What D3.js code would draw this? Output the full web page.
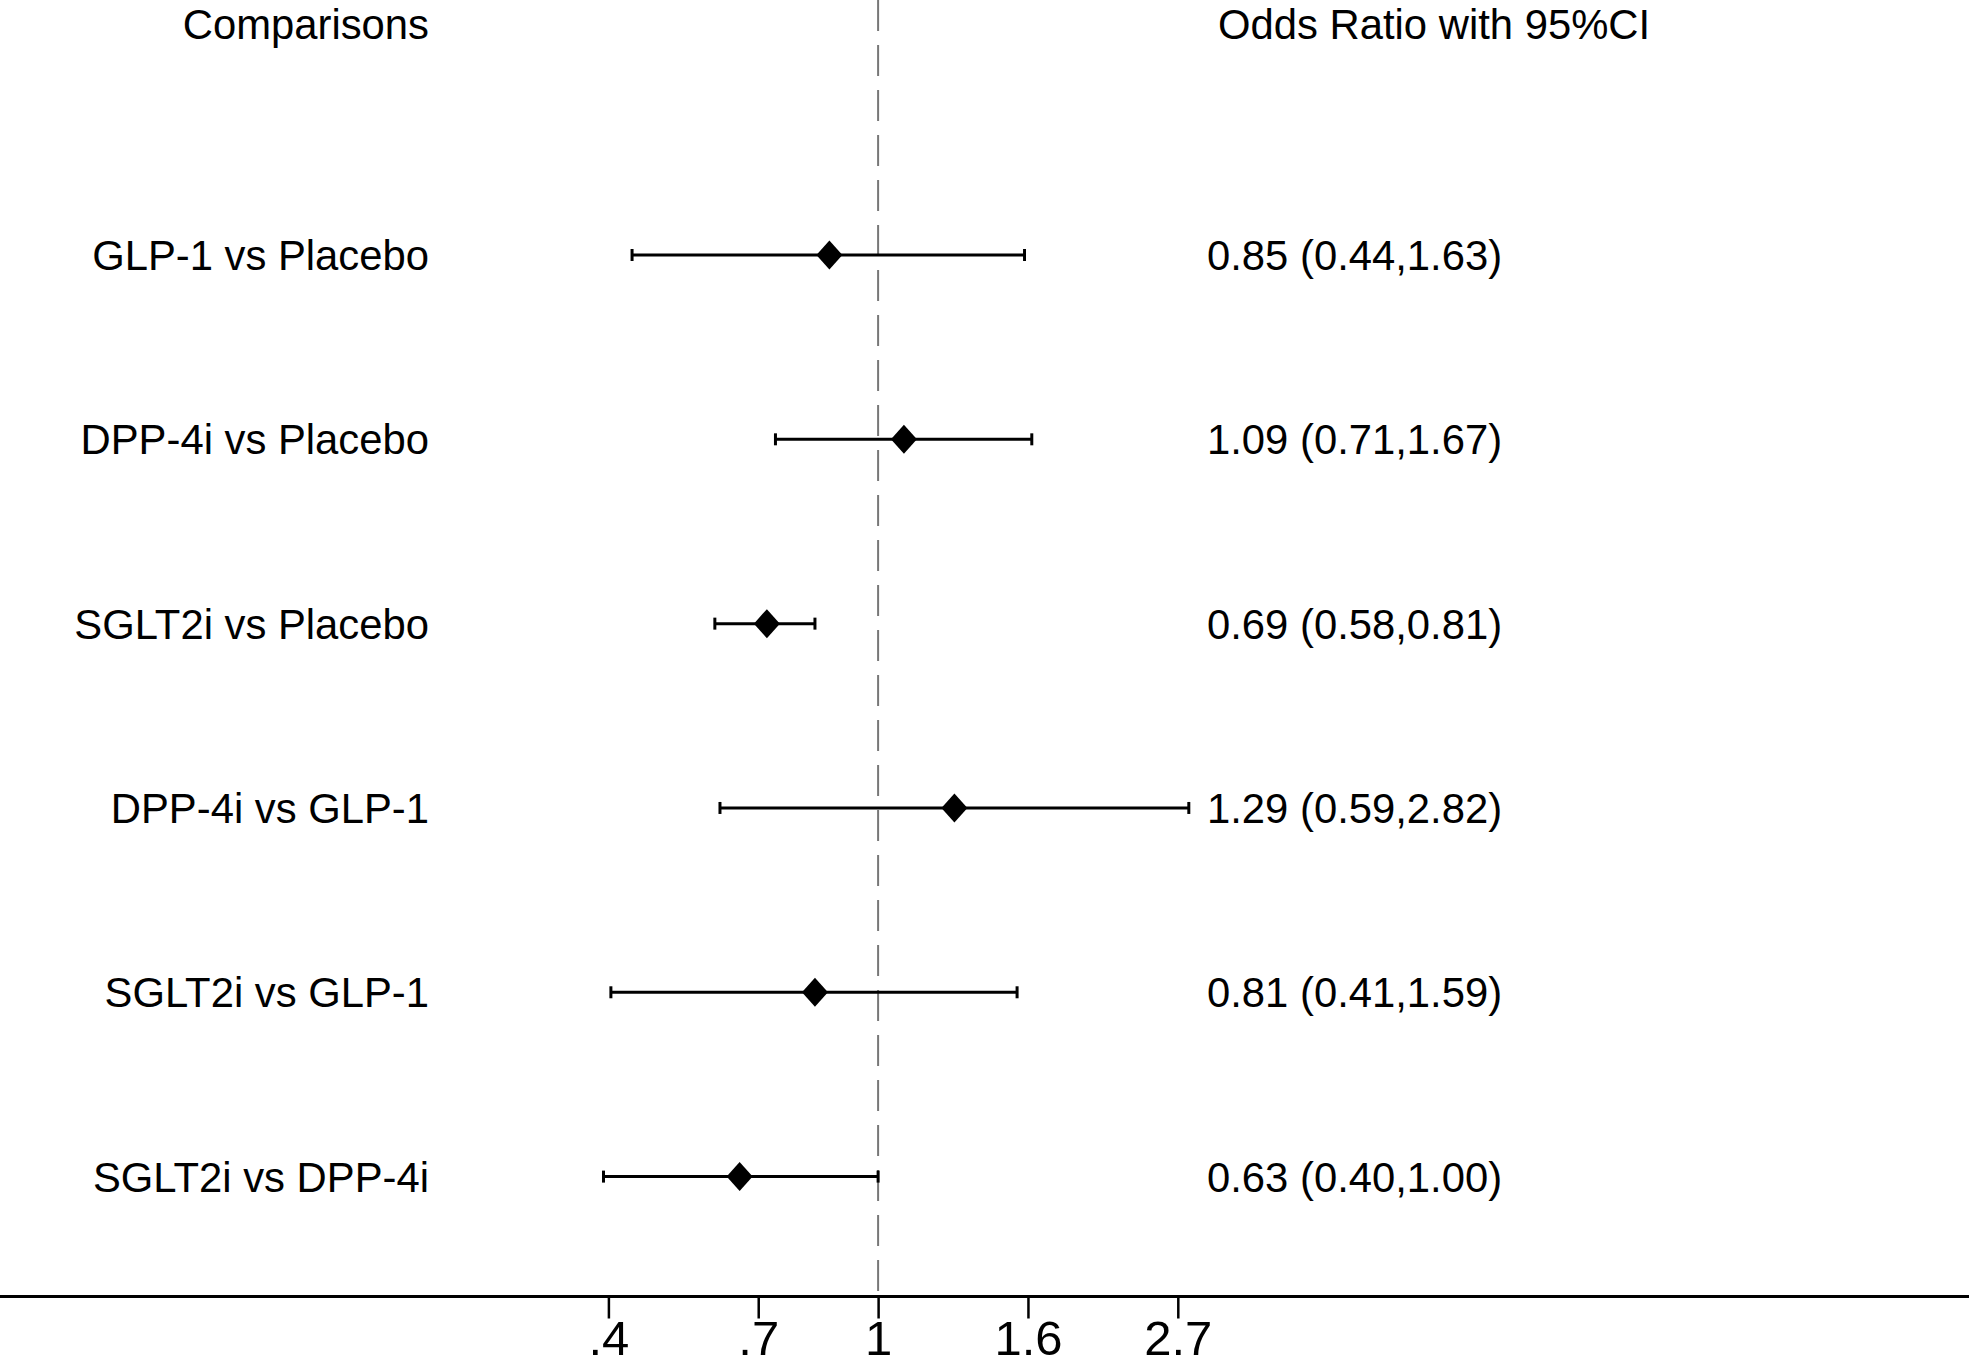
<!DOCTYPE html>
<html lang="en">
  <head>
    <meta charset="UTF-8">
    <title>Forest plot</title>
    <style>
body{
    margin: 0;
    background: #fff;
}
svg{
    display: block;
    background: #fff;
    font-family: "Liberation Sans", Arial, Helvetica, sans-serif;
}
    </style>
  </head>
  <body>
    <script src="https://cdn.jsdelivr.net/npm/d3@7/dist/d3.min.js" charset="UTF-8"></script>
    <script>
// data
var comparisons = ["GLP-1 vs Placebo", "DPP-4i vs Placebo", "SGLT2i vs Placebo",
                   "DPP-4i vs GLP-1", "SGLT2i vs GLP-1", "SGLT2i vs DPP-4i"];
var oddsRatio = [0.85, 1.09, 0.69, 1.29, 0.81, 0.63];
var lowerCI = [0.44, 0.71, 0.58, 0.59, 0.41, 0.40];
var upperCI = [1.63, 1.67, 0.81, 2.82, 1.59, 1.00];
var tickValues = [0.4066, 0.6703, 1, 1.6487, 2.7183];
var tickLabels = [".4", ".7", "1", "1.6", "2.7"];

var width = 1969, height = 1367;
var axisY = 1296.5, labelRight = 429, valueLeft = 1207, fs = 41.8;

var svg = d3.select("body").append("svg")
            .attr("width", width)
            .attr("height", height);

var x = d3.scaleLog()
          .domain([tickValues[0], tickValues[tickValues.length - 1]])
          .range([608.4, 1177.8]);

var y = d3.scalePoint()
          .domain(comparisons)
          .range([255, 1176.6]);

// reference line at OR = 1
svg.append("line")
   .attr("x1", x(1)).attr("x2", x(1))
   .attr("y1", 0).attr("y2", axisY)
   .attr("stroke", "#777")
   .attr("stroke-width", 2)
   .attr("stroke-dasharray", "31,14");

// headers
svg.append("text")
   .attr("x", labelRight).attr("y", 39)
   .attr("text-anchor", "end")
   .attr("font-size", fs)
   .text("Comparisons");

svg.append("text")
   .attr("x", 1218).attr("y", 39)
   .attr("font-size", fs)
   .text("Odds Ratio with 95%CI");

var rows = svg.selectAll("g.row")
              .data(comparisons)
              .enter().append("g")
              .attr("class", "row")
              .attr("transform", function(d){ return "translate(0," + y(d) + ")"; });

rows.append("text")
    .attr("x", labelRight).attr("y", 15)
    .attr("text-anchor", "end")
    .attr("font-size", fs)
    .text(function(d){ return d; });

rows.append("text")
    .attr("x", valueLeft).attr("y", 15)
    .attr("font-size", fs)
    .text(function(d, i){
        return oddsRatio[i].toFixed(2) + " (" + lowerCI[i].toFixed(2) + "," + upperCI[i].toFixed(2) + ")";
    });

// CI lines and caps
rows.append("line")
    .attr("x1", function(d, i){ return x(lowerCI[i]); })
    .attr("x2", function(d, i){ return x(upperCI[i]); })
    .attr("y1", 0).attr("y2", 0)
    .attr("stroke", "#000")
    .attr("stroke-width", 3);

[lowerCI, upperCI].forEach(function(arr){
    rows.append("line")
        .attr("x1", function(d, i){ return x(arr[i]); })
        .attr("x2", function(d, i){ return x(arr[i]); })
        .attr("y1", -6).attr("y2", 6)
        .attr("stroke", "#000")
        .attr("stroke-width", 3);
});

// point estimates
rows.append("path")
    .attr("d", function(d, i){
        var cx = x(oddsRatio[i]);
        return "M" + cx + ",-14.5L" + (cx + 13) + ",0L" + cx + ",14.5L" + (cx - 13) + ",0Z";
    })
    .attr("fill", "#000");

// x axis
var axis = svg.append("g")
              .attr("transform", "translate(0," + axisY + ")")
              .call(d3.axisBottom(x)
                      .tickValues(tickValues)
                      .tickFormat(function(d, i){ return tickLabels[i]; })
                      .tickSize(22)
                      .tickPadding(10));
axis.select(".domain").remove();
axis.selectAll(".tick line").attr("stroke", "#000").attr("stroke-width", 2.5);
axis.selectAll(".tick text")
    .attr("font-family", "\"Liberation Sans\", Arial, sans-serif")
    .attr("font-size", 49)
    .attr("fill", "#000")
    .attr("dy", null)
    .attr("y", 58);

svg.append("line")
   .attr("x1", 0).attr("x2", width)
   .attr("y1", axisY).attr("y2", axisY)
   .attr("stroke", "#000")
   .attr("stroke-width", 3);
    </script>
  </body>
</html>
